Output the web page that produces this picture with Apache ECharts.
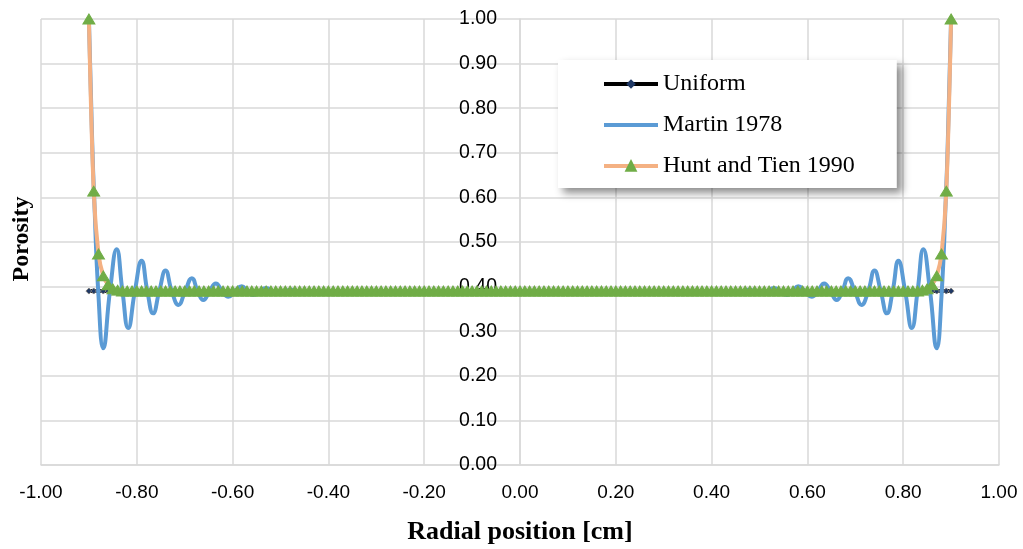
<!DOCTYPE html>
<html>
<head>
<meta charset="utf-8">
<title>Porosity profile</title>
<script src="https://cdn.jsdelivr.net/npm/echarts@6/dist/echarts.min.js"></script>
<style>
  html, body { margin: 0; padding: 0; background: #fff; }
  #chart { width: 1023px; height: 549px; }
</style>
</head>
<body>
<div id="chart"></div>
<script>
// radial positions shared by the Uniform and Hunt and Tien series (cm)
var radialPos = [
  -0.90, -0.89, -0.88, -0.87, -0.86, -0.85, -0.84, -0.83, -0.82, -0.81,
  -0.80, -0.79, -0.78, -0.77, -0.76, -0.75, -0.74, -0.73, -0.72, -0.71,
  -0.70, -0.69, -0.68, -0.67, -0.66, -0.65, -0.64, -0.63, -0.62, -0.61,
  -0.60, -0.59, -0.58, -0.57, -0.56, -0.55, -0.54, -0.53, -0.52, -0.51,
  -0.50, -0.49, -0.48, -0.47, -0.46, -0.45, -0.44, -0.43, -0.42, -0.41,
  -0.40, -0.39, -0.38, -0.37, -0.36, -0.35, -0.34, -0.33, -0.32, -0.31,
  -0.30, -0.29, -0.28, -0.27, -0.26, -0.25, -0.24, -0.23, -0.22, -0.21,
  -0.20, -0.19, -0.18, -0.17, -0.16, -0.15, -0.14, -0.13, -0.12, -0.11,
  -0.10, -0.09, -0.08, -0.07, -0.06, -0.05, -0.04, -0.03, -0.02, -0.01,
  0.00, 0.01, 0.02, 0.03, 0.04, 0.05, 0.06, 0.07, 0.08, 0.09,
  0.10, 0.11, 0.12, 0.13, 0.14, 0.15, 0.16, 0.17, 0.18, 0.19,
  0.20, 0.21, 0.22, 0.23, 0.24, 0.25, 0.26, 0.27, 0.28, 0.29,
  0.30, 0.31, 0.32, 0.33, 0.34, 0.35, 0.36, 0.37, 0.38, 0.39,
  0.40, 0.41, 0.42, 0.43, 0.44, 0.45, 0.46, 0.47, 0.48, 0.49,
  0.50, 0.51, 0.52, 0.53, 0.54, 0.55, 0.56, 0.57, 0.58, 0.59,
  0.60, 0.61, 0.62, 0.63, 0.64, 0.65, 0.66, 0.67, 0.68, 0.69,
  0.70, 0.71, 0.72, 0.73, 0.74, 0.75, 0.76, 0.77, 0.78, 0.79,
  0.80, 0.81, 0.82, 0.83, 0.84, 0.85, 0.86, 0.87, 0.88, 0.89,
  0.90
];

var uniformPorosity = [
  0.39, 0.39, 0.39, 0.39, 0.39, 0.39, 0.39, 0.39, 0.39, 0.39,
  0.39, 0.39, 0.39, 0.39, 0.39, 0.39, 0.39, 0.39, 0.39, 0.39,
  0.39, 0.39, 0.39, 0.39, 0.39, 0.39, 0.39, 0.39, 0.39, 0.39,
  0.39, 0.39, 0.39, 0.39, 0.39, 0.39, 0.39, 0.39, 0.39, 0.39,
  0.39, 0.39, 0.39, 0.39, 0.39, 0.39, 0.39, 0.39, 0.39, 0.39,
  0.39, 0.39, 0.39, 0.39, 0.39, 0.39, 0.39, 0.39, 0.39, 0.39,
  0.39, 0.39, 0.39, 0.39, 0.39, 0.39, 0.39, 0.39, 0.39, 0.39,
  0.39, 0.39, 0.39, 0.39, 0.39, 0.39, 0.39, 0.39, 0.39, 0.39,
  0.39, 0.39, 0.39, 0.39, 0.39, 0.39, 0.39, 0.39, 0.39, 0.39,
  0.39, 0.39, 0.39, 0.39, 0.39, 0.39, 0.39, 0.39, 0.39, 0.39,
  0.39, 0.39, 0.39, 0.39, 0.39, 0.39, 0.39, 0.39, 0.39, 0.39,
  0.39, 0.39, 0.39, 0.39, 0.39, 0.39, 0.39, 0.39, 0.39, 0.39,
  0.39, 0.39, 0.39, 0.39, 0.39, 0.39, 0.39, 0.39, 0.39, 0.39,
  0.39, 0.39, 0.39, 0.39, 0.39, 0.39, 0.39, 0.39, 0.39, 0.39,
  0.39, 0.39, 0.39, 0.39, 0.39, 0.39, 0.39, 0.39, 0.39, 0.39,
  0.39, 0.39, 0.39, 0.39, 0.39, 0.39, 0.39, 0.39, 0.39, 0.39,
  0.39, 0.39, 0.39, 0.39, 0.39, 0.39, 0.39, 0.39, 0.39, 0.39,
  0.39, 0.39, 0.39, 0.39, 0.39, 0.39, 0.39, 0.39, 0.39, 0.39,
  0.39
];

var huntTienPorosity = [
  1.00, 0.614, 0.473, 0.424, 0.404, 0.395, 0.392, 0.39, 0.39, 0.39,
  0.39, 0.39, 0.39, 0.39, 0.39, 0.39, 0.39, 0.39, 0.39, 0.39,
  0.39, 0.39, 0.39, 0.39, 0.39, 0.39, 0.39, 0.39, 0.39, 0.39,
  0.39, 0.39, 0.39, 0.39, 0.39, 0.39, 0.39, 0.39, 0.39, 0.39,
  0.39, 0.39, 0.39, 0.39, 0.39, 0.39, 0.39, 0.39, 0.39, 0.39,
  0.39, 0.39, 0.39, 0.39, 0.39, 0.39, 0.39, 0.39, 0.39, 0.39,
  0.39, 0.39, 0.39, 0.39, 0.39, 0.39, 0.39, 0.39, 0.39, 0.39,
  0.39, 0.39, 0.39, 0.39, 0.39, 0.39, 0.39, 0.39, 0.39, 0.39,
  0.39, 0.39, 0.39, 0.39, 0.39, 0.39, 0.39, 0.39, 0.39, 0.39,
  0.39, 0.39, 0.39, 0.39, 0.39, 0.39, 0.39, 0.39, 0.39, 0.39,
  0.39, 0.39, 0.39, 0.39, 0.39, 0.39, 0.39, 0.39, 0.39, 0.39,
  0.39, 0.39, 0.39, 0.39, 0.39, 0.39, 0.39, 0.39, 0.39, 0.39,
  0.39, 0.39, 0.39, 0.39, 0.39, 0.39, 0.39, 0.39, 0.39, 0.39,
  0.39, 0.39, 0.39, 0.39, 0.39, 0.39, 0.39, 0.39, 0.39, 0.39,
  0.39, 0.39, 0.39, 0.39, 0.39, 0.39, 0.39, 0.39, 0.39, 0.39,
  0.39, 0.39, 0.39, 0.39, 0.39, 0.39, 0.39, 0.39, 0.39, 0.39,
  0.39, 0.39, 0.39, 0.39, 0.39, 0.39, 0.39, 0.39, 0.39, 0.39,
  0.39, 0.39, 0.39, 0.39, 0.392, 0.395, 0.404, 0.424, 0.473, 0.614,
  1.00
];

// Martin 1978: damped oscillation near the wall (extrema + mean crossings)
var martinPos = [
  -0.900, -0.893, -0.889, -0.880, -0.870, -0.856, -0.842, -0.830, -0.818, -0.804,
  -0.790, -0.778, -0.766, -0.753, -0.740, -0.727, -0.713, -0.699, -0.685, -0.673,
  -0.661, -0.648, -0.635, -0.622, -0.609, -0.595, -0.581, -0.569, -0.557, -0.543,
  -0.530, -0.517, -0.504, -0.490, -0.477, -0.464,
  0.464, 0.477, 0.490, 0.504, 0.517, 0.530, 0.543, 0.557, 0.569, 0.581,
  0.595, 0.609, 0.622, 0.635, 0.648, 0.661, 0.673, 0.685, 0.699, 0.713,
  0.727, 0.740, 0.753, 0.766, 0.778, 0.790, 0.804, 0.818, 0.830, 0.842,
  0.856, 0.870, 0.880, 0.889, 0.893, 0.900
];
var martinPorosity = [
  1.00, 0.72, 0.60, 0.38, 0.262, 0.39, 0.484, 0.39, 0.307, 0.39,
  0.458, 0.39, 0.340, 0.39, 0.436, 0.39, 0.359, 0.39, 0.419, 0.39,
  0.370, 0.39, 0.407, 0.39, 0.377, 0.39, 0.401, 0.39, 0.381, 0.39,
  0.397, 0.39, 0.385, 0.39, 0.393, 0.39,
  0.39, 0.393, 0.39, 0.385, 0.39, 0.397, 0.39, 0.381, 0.39, 0.401,
  0.39, 0.377, 0.39, 0.407, 0.39, 0.370, 0.39, 0.419, 0.39, 0.359,
  0.39, 0.436, 0.39, 0.340, 0.39, 0.458, 0.39, 0.307, 0.39, 0.484,
  0.39, 0.262, 0.38, 0.60, 0.72, 1.00
];

var xTicks = { min: -1, max: 1, interval: 0.2 };
var yTicks = { min: 0, max: 1, interval: 0.1 };

function pairs(xs, ys) {
  return xs.map(function (x, i) { return [x, ys[i]]; });
}

var chartDom = document.getElementById('chart');
var myChart = echarts.init(chartDom);
var option;

var gridColor = '#d9d9d9';
var tickFont = 'Liberation Sans';
var serifFont = 'Liberation Serif';
var plotWidth = 1023 - 41 - 24;

option = {
  animation: false,
  backgroundColor: '#fff',
  grid: {
    left: 41,
    right: 24,
    top: 19,
    bottom: 84,
    outerBoundsMode: 'none'
  },
  legend: {
    orient: 'vertical',
    left: 558,
    top: 60,
    padding: [12, 42, 10, 44],
    itemWidth: 54,
    itemHeight: 12,
    itemGap: 17,
    backgroundColor: '#fff',
    shadowColor: 'rgba(0,0,0,0.45)',
    shadowBlur: 8,
    shadowOffsetX: 5,
    shadowOffsetY: 5,
    lineStyle: { width: 4 },
    textStyle: {
      fontFamily: serifFont,
      fontSize: 24,
      color: '#000'
    },
    data: [
      { name: 'Uniform', itemStyle: { borderWidth: 0 } },
      { name: 'Martin 1978', itemStyle: { opacity: 0 } },
      { name: 'Hunt and Tien 1990' }
    ]
  },
  graphic: [
    {
      type: 'text',
      x: 22,
      y: 239,
      rotation: Math.PI / 2,
      style: {
        text: 'Porosity',
        font: 'bold 24px "Liberation Serif"',
        fill: '#000',
        align: 'center',
        verticalAlign: 'middle'
      }
    }
  ],
  xAxis: {
    type: 'value',
    min: xTicks.min,
    max: xTicks.max,
    interval: xTicks.interval,
    name: 'Radial position [cm]',
    nameLocation: 'middle',
    nameGap: 54,
    nameTextStyle: {
      fontFamily: serifFont,
      fontWeight: 'bold',
      fontSize: 26,
      color: '#000'
    },
    axisLine: { show: true, lineStyle: { color: gridColor, width: 1.5 } },
    axisTick: { show: false },
    axisLabel: {
      margin: 18,
      fontFamily: tickFont,
      fontSize: 19,
      color: '#000',
      formatter: function (v) { return v.toFixed(2); }
    },
    splitLine: { show: true, lineStyle: { color: gridColor, width: 1.5 } }
  },
  yAxis: {
    type: 'value',
    min: yTicks.min,
    max: yTicks.max,
    interval: yTicks.interval,
    position: 'left',
    // put the y axis on x = 0, in the middle of the plot
    offset: -plotWidth / 2,
    axisLine: { show: true, onZero: false, lineStyle: { color: gridColor, width: 1.5 } },
    axisTick: { show: false },
    axisLabel: {
      margin: 23,
      fontFamily: tickFont,
      fontSize: 19.5,
      color: '#000',
      formatter: function (v) { return v.toFixed(2); }
    },
    splitLine: { show: true, lineStyle: { color: gridColor, width: 1.5 } }
  },
  series: [
    {
      name: 'Uniform',
      type: 'line',
      data: pairs(radialPos, uniformPorosity),
      symbol: 'diamond',
      symbolSize: 6,
      itemStyle: { color: '#1f3864', borderColor: '#808080', borderWidth: 1 },
      lineStyle: { color: '#000', width: 4 },
      z: 2
    },
    {
      name: 'Martin 1978',
      type: 'line',
      data: pairs(martinPos, martinPorosity),
      smooth: 0.5,
      symbol: 'none',
      itemStyle: { color: '#5b9bd5' },
      lineStyle: { color: '#5b9bd5', width: 4 },
      z: 3
    },
    {
      name: 'Hunt and Tien 1990',
      type: 'line',
      data: pairs(radialPos, huntTienPorosity),
      smooth: 0.3,
      symbol: 'triangle',
      symbolSize: [12, 10],
      itemStyle: { color: '#70ad47', borderColor: '#70ad47', borderWidth: 1 },
      lineStyle: { color: '#f4b183', width: 4 },
      z: 4
    }
  ]
};

option && myChart.setOption(option);
</script>
</body>
</html>
